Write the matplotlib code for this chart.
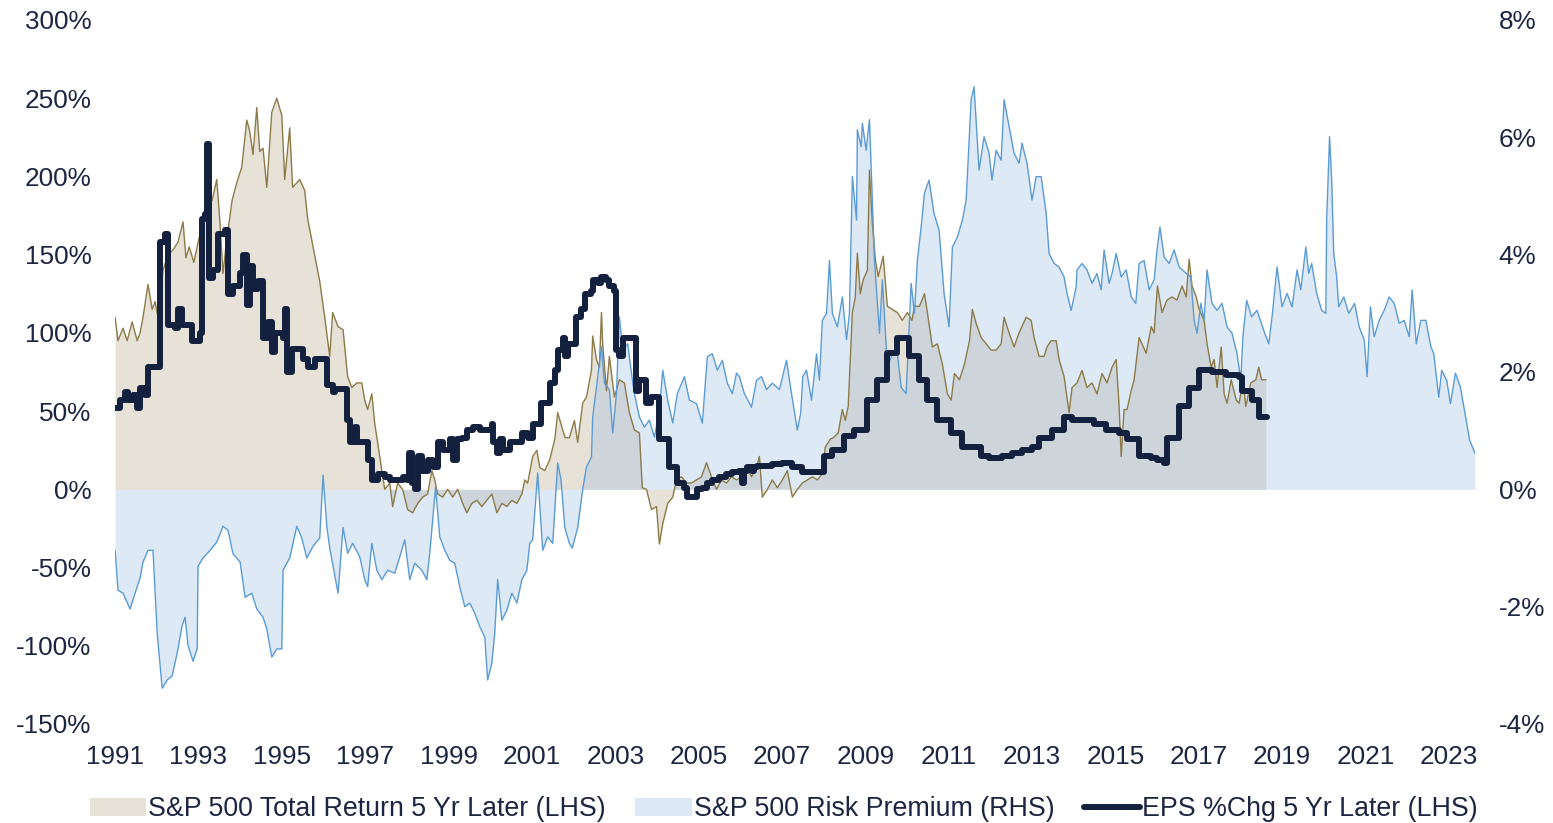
import numpy as np
import matplotlib.pyplot as plt
from matplotlib.patches import Patch
from matplotlib.lines import Line2D

plt.rcParams['font.family'] = ['Liberation Sans', 'DejaVu Sans']

# S&P 500 risk premium (RHS, %)
rp_year = [1991.00, 1991.07, 1991.19, 1991.36, 1991.48, 1991.60, 1991.67, 1991.79, 1991.91,
           1992.01, 1992.13, 1992.25, 1992.37, 1992.49, 1992.61, 1992.68, 1992.75, 1992.87, 1992.97,
           1992.99, 1993.11, 1993.28, 1993.44, 1993.59, 1993.71, 1993.83, 1994.00, 1994.12, 1994.28,
           1994.40, 1994.55, 1994.64, 1994.76, 1994.88, 1995.00, 1995.03, 1995.19, 1995.36, 1995.48,
           1995.60, 1995.75, 1995.91, 1995.99, 1996.08, 1996.15, 1996.35, 1996.47, 1996.58, 1996.70,
           1996.87, 1996.99, 1997.06, 1997.16, 1997.28, 1997.40, 1997.54, 1997.71, 1997.83, 1997.95,
           1998.07, 1998.19, 1998.36, 1998.48, 1998.55, 1998.69, 1998.79, 1998.91, 1999.03, 1999.15,
           1999.27, 1999.39, 1999.51, 1999.63, 1999.75, 1999.87, 1999.94, 2000.04, 2000.11, 2000.18,
           2000.28, 2000.40, 2000.52, 2000.64, 2000.76, 2000.88, 2000.95, 2001.02, 2001.14, 2001.26,
           2001.38, 2001.50, 2001.62, 2001.70, 2001.79, 2001.90, 2001.97, 2002.10, 2002.22, 2002.31,
           2002.43, 2002.46, 2002.58, 2002.67, 2002.74, 2002.86, 2002.94, 2003.03, 2003.10, 2003.18,
           2003.30, 2003.39, 2003.46, 2003.58, 2003.70, 2003.82, 2003.94, 2004.06, 2004.14, 2004.26,
           2004.38, 2004.49, 2004.66, 2004.78, 2004.95, 2005.09, 2005.21, 2005.33, 2005.45, 2005.57,
           2005.69, 2005.81, 2005.91, 2005.98, 2006.10, 2006.27, 2006.39, 2006.51, 2006.63, 2006.77,
           2006.94, 2007.11, 2007.23, 2007.37, 2007.45, 2007.50, 2007.59, 2007.71, 2007.83, 2007.90,
           2007.97, 2008.07, 2008.14, 2008.21, 2008.33, 2008.45, 2008.55, 2008.62, 2008.69, 2008.79,
           2008.81, 2008.90, 2008.93, 2009.02, 2009.10, 2009.22, 2009.34, 2009.41, 2009.53, 2009.65,
           2009.77, 2009.86, 2009.98, 2010.10, 2010.18, 2010.25, 2010.34, 2010.42, 2010.53, 2010.65,
           2010.77, 2010.89, 2011.01, 2011.09, 2011.21, 2011.33, 2011.42, 2011.54, 2011.61, 2011.73,
           2011.85, 2011.97, 2012.04, 2012.14, 2012.26, 2012.33, 2012.45, 2012.57, 2012.69, 2012.76,
           2012.88, 2013.00, 2013.10, 2013.22, 2013.34, 2013.41, 2013.53, 2013.65, 2013.77, 2013.84,
           2013.94, 2014.06, 2014.08, 2014.20, 2014.32, 2014.44, 2014.56, 2014.66, 2014.73, 2014.85,
           2014.92, 2015.02, 2015.14, 2015.26, 2015.38, 2015.49, 2015.57, 2015.69, 2015.81, 2015.93,
           2016.00, 2016.07, 2016.17, 2016.29, 2016.41, 2016.53, 2016.70, 2016.81, 2016.89, 2016.96,
           2017.05, 2017.13, 2017.20, 2017.32, 2017.44, 2017.56, 2017.68, 2017.80, 2017.92, 2018.01,
           2018.06, 2018.15, 2018.27, 2018.40, 2018.56, 2018.68, 2018.76, 2018.88, 2019.00, 2019.12,
           2019.24, 2019.36, 2019.45, 2019.57, 2019.64, 2019.71, 2019.83, 2019.95, 2020.05, 2020.07,
           2020.14, 2020.19, 2020.24, 2020.31, 2020.36, 2020.48, 2020.60, 2020.74, 2020.85, 2020.97,
           2021.04, 2021.12, 2021.21, 2021.33, 2021.45, 2021.57, 2021.69, 2021.81, 2021.93, 2022.05,
           2022.12, 2022.22, 2022.33, 2022.45, 2022.57, 2022.64, 2022.76, 2022.83, 2022.95, 2023.04,
           2023.16, 2023.28, 2023.39, 2023.50, 2023.63]
rp_value = [-1.04, -1.72, -1.77, -2.04, -1.77, -1.51, -1.24, -1.04, -1.04,
            -2.45, -3.39, -3.25, -3.18, -2.79, -2.32, -2.18, -2.66, -2.93, -2.72,
            -1.31, -1.17, -1.04, -0.90, -0.63, -0.70, -1.10, -1.24, -1.84, -1.77,
            -2.04, -2.18, -2.38, -2.86, -2.72, -2.72, -1.38, -1.17, -0.63, -0.83,
            -1.17, -0.97, -0.83, 0.24, -0.63, -1.00, -1.77, -0.65, -1.09, -0.92,
            -1.15, -1.54, -1.66, -0.92, -1.38, -1.54, -1.38, -1.43, -1.15, -0.86,
            -1.54, -1.26, -1.38, -1.54, -1.09, 0.04, -0.81, -1.04, -1.21, -1.26,
            -1.66, -2.00, -1.94, -2.11, -2.34, -2.52, -3.25, -2.96, -2.45, -1.54,
            -2.23, -2.06, -1.77, -1.94, -1.54, -1.38, -0.92, -0.86, 0.28, -1.04,
            -0.81, -0.92, 0.45, 0.16, -0.65, -0.92, -1.00, -0.65, 0.00, 0.38,
            0.55, 1.23, 1.92, 2.43, 1.81, 1.70, 0.96, 1.63, 2.94, 2.37,
            2.48, 1.98, 1.63, 1.23, 1.06, 1.18, 0.89, 1.35, 2.03, 1.52,
            1.13, 1.63, 1.92, 1.52, 1.46, 1.13, 2.26, 2.31, 2.03, 2.20,
            1.81, 1.63, 1.98, 1.92, 1.63, 1.40, 1.86, 1.92, 1.70, 1.81,
            1.70, 2.20, 1.63, 1.01, 1.30, 1.92, 2.03, 1.52, 2.31, 1.86,
            2.88, 3.00, 3.90, 3.00, 2.77, 3.28, 2.55, 3.00, 5.33, 4.59,
            6.13, 5.84, 6.24, 5.78, 6.30, 3.90, 2.66, 3.57, 2.09, 2.31,
            2.31, 1.74, 1.63, 3.51, 3.00, 3.90, 4.47, 5.05, 5.27, 4.70,
            4.42, 3.34, 2.77, 4.13, 4.30, 4.59, 4.93, 6.64, 6.86, 5.44,
            6.01, 5.73, 5.27, 5.78, 5.61, 6.64, 6.18, 5.73, 5.56, 5.90,
            5.56, 4.93, 5.33, 5.33, 4.70, 4.02, 3.85, 3.79, 3.62, 3.34,
            3.05, 3.45, 3.74, 3.85, 3.74, 3.51, 3.68, 3.40, 4.08, 3.51,
            3.68, 4.02, 3.62, 3.74, 3.28, 3.17, 3.85, 3.90, 3.40, 3.57,
            4.08, 4.47, 3.96, 3.85, 4.08, 3.79, 3.68, 3.62, 2.88, 2.66,
            3.17, 2.88, 3.74, 3.17, 3.05, 3.17, 2.77, 2.66, 2.31, 1.86,
            2.60, 3.22, 2.94, 3.05, 2.71, 2.48, 2.94, 3.79, 3.11, 3.34,
            3.11, 3.74, 3.40, 4.13, 3.68, 3.85, 3.34, 3.05, 3.00, 4.59,
            6.01, 5.27, 4.02, 3.62, 3.11, 3.28, 3.00, 3.17, 2.77, 2.55,
            1.92, 3.11, 2.60, 2.88, 3.05, 3.28, 3.17, 2.83, 2.88, 2.60,
            3.40, 2.48, 2.88, 2.88, 2.43, 2.31, 1.57, 2.03, 1.86, 1.46,
            1.98, 1.74, 1.29, 0.84, 0.61]

# S&P 500 total return 5 yr later (LHS, %)
tr_year = [1991.00, 1991.07, 1991.19, 1991.29, 1991.41, 1991.53, 1991.60, 1991.67, 1991.79, 1991.89,
           1991.96, 1992.03, 1992.15, 1992.27, 1992.39, 1992.51, 1992.63, 1992.70, 1992.78, 1992.89,
           1993.01, 1993.18, 1993.33, 1993.44, 1993.51, 1993.59, 1993.68, 1993.81, 1993.92, 1994.04,
           1994.16, 1994.23, 1994.31, 1994.40, 1994.47, 1994.55, 1994.64, 1994.76, 1994.88, 1995.00,
           1995.07, 1995.19, 1995.26, 1995.43, 1995.55, 1995.62, 1995.75, 1995.91, 1996.03, 1996.15,
           1996.22, 1996.35, 1996.47, 1996.58, 1996.68, 1996.80, 1996.92, 1996.99, 1997.06, 1997.16,
           1997.23, 1997.30, 1997.40, 1997.47, 1997.59, 1997.66, 1997.78, 1997.90, 1998.02, 1998.14,
           1998.26, 1998.38, 1998.50, 1998.60, 1998.67, 1998.74, 1998.86, 1998.98, 1999.10, 1999.22,
           1999.34, 1999.44, 1999.56, 1999.68, 1999.80, 1999.92, 2000.04, 2000.16, 2000.28, 2000.40,
           2000.52, 2000.64, 2000.76, 2000.83, 2000.90, 2001.02, 2001.12, 2001.19, 2001.31, 2001.43,
           2001.55, 2001.62, 2001.74, 2001.80, 2001.90, 2002.02, 2002.10, 2002.22, 2002.31, 2002.43,
           2002.46, 2002.55, 2002.62, 2002.67, 2002.70, 2002.79, 2002.86, 2002.98, 2003.10, 2003.22,
           2003.34, 2003.46, 2003.58, 2003.65, 2003.75, 2003.87, 2003.99, 2004.06, 2004.14, 2004.26,
           2004.38, 2004.47, 2004.59, 2004.71, 2004.83, 2004.95, 2005.07, 2005.19, 2005.31, 2005.43,
           2005.55, 2005.67, 2005.79, 2005.91, 2006.03, 2006.15, 2006.27, 2006.39, 2006.46, 2006.53,
           2006.65, 2006.77, 2006.89, 2007.01, 2007.13, 2007.25, 2007.37, 2007.49, 2007.61, 2007.73,
           2007.85, 2007.97, 2008.04, 2008.16, 2008.23, 2008.35, 2008.45, 2008.52, 2008.59, 2008.69,
           2008.76, 2008.81, 2008.88, 2008.95, 2009.05, 2009.10, 2009.17, 2009.24, 2009.31, 2009.43,
           2009.53, 2009.65, 2009.77, 2009.89, 2010.01, 2010.12, 2010.18, 2010.30, 2010.42, 2010.49,
           2010.61, 2010.73, 2010.85, 2010.97, 2011.06, 2011.14, 2011.26, 2011.38, 2011.50, 2011.57,
           2011.66, 2011.78, 2011.90, 2012.02, 2012.14, 2012.26, 2012.33, 2012.45, 2012.57, 2012.69,
           2012.86, 2012.98, 2013.05, 2013.17, 2013.29, 2013.36, 2013.46, 2013.58, 2013.65, 2013.77,
           2013.89, 2013.96, 2014.08, 2014.20, 2014.32, 2014.44, 2014.56, 2014.68, 2014.80, 2014.92,
           2015.02, 2015.09, 2015.14, 2015.21, 2015.28, 2015.38, 2015.45, 2015.57, 2015.74, 2015.86,
           2015.93, 2016.01, 2016.12, 2016.24, 2016.36, 2016.48, 2016.60, 2016.70, 2016.77, 2016.84,
           2016.94, 2017.01, 2017.13, 2017.20, 2017.30, 2017.37, 2017.44, 2017.54, 2017.61, 2017.68,
           2017.78, 2017.90, 2017.97, 2018.06, 2018.13, 2018.25, 2018.37, 2018.44, 2018.51, 2018.61]
tr_value = [110, 95, 103, 95, 107, 95, 100, 110, 131, 115,
            120, 110, 140, 150, 153, 158, 171, 148, 155, 145,
            160, 178, 185, 198, 173, 138, 160, 185, 196, 206,
            236, 229, 214, 244, 216, 218, 193, 241, 250, 239,
            198, 231, 193, 198, 191, 173, 155, 133, 110, 85,
            113, 104, 102, 72, 65, 68, 68, 57, 51, 61,
            42, 30, 12, 0, 4, -11, 4, 0, -13, -15,
            -9, -5, -3, 12, 6, -3, -5, 0, -5, 0,
            -9, -15, -9, -7, -11, -7, -3, -15, -9, -11,
            -7, -9, -3, 6, 4, 21, 25, 14, 12, 19,
            32, 49, 38, 33, 33, 44, 30, 55, 59, 76,
            98, 83, 78, 113, 93, 63, 85, 59, 70, 68,
            49, 38, 36, 1, 0, -13, -11, -35, -22, -9,
            -5, 6, 8, 4, 4, 6, 8, 17, 8, 0,
            6, 4, 8, 6, 8, 14, 8, 14, 21, -5,
            0, 6, 1, 6, 12, -5, 0, 4, 6, 8,
            6, 10, 27, 32, 33, 36, 51, 44, 53, 113,
            123, 151, 125, 134, 140, 204, 170, 147, 136, 149,
            117, 115, 113, 108, 113, 108, 117, 117, 125, 113,
            91, 93, 80, 61, 57, 74, 70, 80, 95, 115,
            106, 97, 93, 89, 89, 93, 110, 100, 91, 100,
            110, 108, 97, 85, 85, 91, 95, 95, 83, 72,
            49, 65, 68, 76, 65, 68, 61, 74, 68, 78,
            83, 53, 21, 51, 51, 63, 70, 97, 87, 104,
            100, 130, 113, 121, 123, 121, 130, 123, 147, 130,
            123, 115, 108, 93, 78, 83, 65, 91, 61, 55,
            70, 57, 55, 70, 53, 68, 70, 78, 70, 70]

# EPS % change 5 yr later (LHS, %), step series
eps_year = [1991.00, 1991.12, 1991.24, 1991.31, 1991.43, 1991.53, 1991.60, 1991.72, 1991.79, 1992.08,
            1992.20, 1992.27, 1992.44, 1992.51, 1992.61, 1992.85, 1993.04, 1993.09, 1993.16, 1993.21,
            1993.25, 1993.35, 1993.47, 1993.64, 1993.71, 1993.83, 1994.00, 1994.07, 1994.16, 1994.24,
            1994.31, 1994.43, 1994.55, 1994.67, 1994.76, 1994.84, 1995.03, 1995.07, 1995.12, 1995.24,
            1995.51, 1995.63, 1995.79, 1996.08, 1996.23, 1996.27, 1996.56, 1996.63, 1996.75, 1996.80,
            1997.06, 1997.16, 1997.30, 1997.47, 1997.59, 1997.90, 1998.00, 1998.05, 1998.12, 1998.19,
            1998.26, 1998.36, 1998.50, 1998.62, 1998.74, 1998.86, 1999.03, 1999.10, 1999.20, 1999.32,
            1999.44, 1999.58, 1999.75, 2000.04, 2000.06, 2000.16, 2000.23, 2000.30, 2000.47, 2000.76,
            2000.90, 2001.02, 2001.23, 2001.43, 2001.55, 2001.62, 2001.74, 2001.79, 2001.86, 2002.07,
            2002.19, 2002.27, 2002.43, 2002.46, 2002.58, 2002.67, 2002.79, 2002.86, 2002.98, 2003.03,
            2003.10, 2003.18, 2003.51, 2003.58, 2003.75, 2003.87, 2004.06, 2004.30, 2004.49, 2004.66,
            2004.73, 2004.97, 2005.09, 2005.21, 2005.33, 2005.50, 2005.67, 2005.81, 2005.98, 2006.03,
            2006.10, 2006.15, 2006.27, 2006.34, 2006.39, 2006.77, 2007.01, 2007.25, 2007.49, 2008.02,
            2008.21, 2008.50, 2008.74, 2009.05, 2009.29, 2009.53, 2009.77, 2010.06, 2010.30, 2010.49,
            2010.73, 2011.06, 2011.33, 2011.78, 2011.97, 2012.28, 2012.52, 2012.76, 2013.00, 2013.17,
            2013.48, 2013.77, 2013.96, 2014.49, 2014.78, 2015.09, 2015.28, 2015.57, 2015.86, 2016.00,
            2016.17, 2016.24, 2016.53, 2016.77, 2017.01, 2017.32, 2017.65, 2017.97, 2018.04, 2018.28,
            2018.44, 2018.63]
eps_value = [52, 57, 62, 57, 60, 52, 65, 60, 78, 158,
             163, 105, 103, 115, 105, 95, 100, 173, 176, 221,
             135, 140, 163, 166, 125, 130, 138, 150, 118, 143,
             128, 133, 97, 107, 88, 100, 97, 115, 75, 90,
             83, 78, 83, 67, 62, 64, 44, 30, 40, 30,
             19, 6, 10, 8, 6, 8, 6, 23, 4, 0,
             21, 12, 19, 14, 30, 25, 32, 19, 32, 33,
             38, 40, 38, 42, 30, 23, 32, 25, 30, 36,
             33, 42, 55, 68, 76, 89, 97, 85, 93, 110,
             115, 125, 127, 134, 132, 136, 134, 130, 127, 89,
             85, 97, 63, 70, 55, 59, 32, 14, 4, 1,
             -5, 0, 1, 4, 6, 8, 10, 11, 12, 4,
             12, 14, 12, 14, 15, 16, 17, 14, 11, 21,
             25, 34, 38, 57, 70, 87, 97, 85, 70, 57,
             44, 36, 27, 21, 20, 21, 23, 25, 27, 33,
             38, 46, 44, 42, 38, 36, 32, 21, 20, 19,
             17, 33, 53, 65, 76, 75, 73, 72, 63, 57,
             46, 46]

left_ticks = [-150, -100, -50, 0, 50, 100, 150, 200, 250, 300]
right_ticks = [-4, -2, 0, 2, 4, 6, 8]
year_ticks = list(range(1991, 2024, 2))

text_col = '#1c2541'
beige = '#e7e2d8'
beige_line = '#8c7a48'
blue_fill = '#94b8df'
blue_line = '#5b9bd5'
navy = '#13213f'
tick_fs = 18.8
legend_fs = 19.3

fig = plt.figure(figsize=(15.53, 8.23), dpi=100)
ax = fig.add_axes([0.0741, 0.1203, 0.8757, 0.8554])
ax2 = ax.twinx()

ax.set_xlim(1991.0, rp_year[-1])
ax.set_ylim(-150, 300)
ax2.set_ylim(-4, 8)

# everything drawn on ax so the layering can be controlled; RHS series use ax2's scale
ax.fill_between(tr_year, 0, tr_value, color=beige, lw=0, zorder=1)
ax.fill_between(rp_year, 0, rp_value, color=blue_fill, alpha=0.31, lw=0, zorder=2,
                transform=ax2.transData)
ax.plot(tr_year, tr_value, color=beige_line, lw=1.0, zorder=3)
ax.plot(rp_year, rp_value, color=blue_line, lw=1.0, zorder=4, transform=ax2.transData)
ax.plot(eps_year, eps_value, color=navy, lw=4.3, drawstyle='steps-post', zorder=5,
        solid_joinstyle='round', solid_capstyle='round')

ax.set_yticks(left_ticks)
ax.set_yticklabels([f'{t}%' for t in left_ticks])
ax2.set_yticks(right_ticks)
ax2.set_yticklabels([f'{t}%' for t in right_ticks])
ax.set_xticks(year_ticks)
ax.set_xticklabels([str(y) for y in year_ticks])

for a in (ax, ax2):
    for s in a.spines.values():
        s.set_visible(False)
ax.tick_params(axis='y', length=0, pad=17, labelsize=tick_fs, labelcolor=text_col)
ax.tick_params(axis='x', length=0, pad=15, labelsize=tick_fs, labelcolor=text_col)
ax2.tick_params(axis='y', length=0, pad=17, labelsize=tick_fs, labelcolor=text_col)

handles = [Patch(facecolor=beige, edgecolor='none'),
           Patch(facecolor=blue_fill, alpha=0.31, edgecolor='none'),
           Line2D([0], [0], color=navy, lw=4.3, solid_capstyle='round')]
labels = ['S&P 500 Total Return 5 Yr Later (LHS)', 'S&P 500 Risk Premium (RHS)',
          'EPS %Chg 5 Yr Later (LHS)']
fig.legend(handles, labels, loc='center', bbox_to_anchor=(0.5048, 0.017), ncol=3,
           frameon=False, fontsize=legend_fs, labelcolor=text_col, handlelength=2.1,
           handleheight=0.65, handletextpad=0.08, columnspacing=1.1)

fig.savefig('out.png', dpi=100)
